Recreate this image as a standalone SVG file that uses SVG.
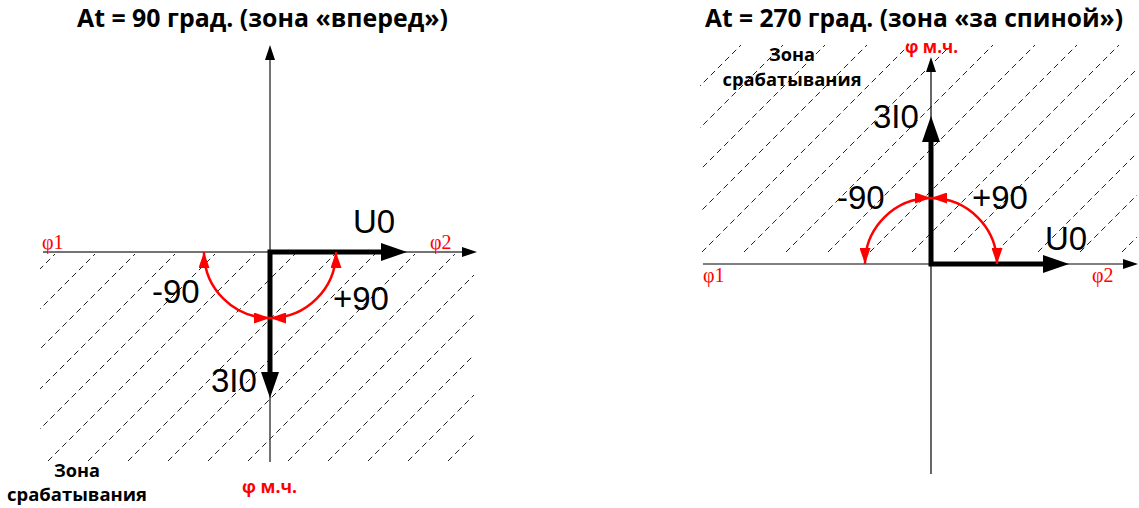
<svg xmlns="http://www.w3.org/2000/svg" width="1139" height="508" viewBox="0 0 1139 508">
<style>
.title{font-family:"Open Sans","Liberation Sans",sans-serif;font-weight:bold;font-size:25px;fill:#000}
.big{font-family:"Liberation Sans",Arial,sans-serif;font-size:33px;fill:#000}
.phi{font-family:"Liberation Serif","Times New Roman",serif;font-size:20px;fill:#ff0000}
.mch{font-family:"Open Sans","Liberation Sans",sans-serif;font-weight:bold;font-size:17px;fill:#ff0000}
.zone{font-family:"Open Sans","Liberation Sans",sans-serif;font-weight:bold;font-size:18px;fill:#000}
.hatch{fill:none;stroke:#222;stroke-width:1;stroke-dasharray:6 4}
.axisL{fill:none;stroke:#444;stroke-width:1.5}
.axisR{fill:none;stroke:#000;stroke-width:1.2}
.vec{fill:none;stroke:#000;stroke-width:5;stroke-linejoin:miter}
.arc{fill:none;stroke:#ff0000;stroke-width:2.5}
</style>
<defs>
<marker id="ahVec" markerUnits="userSpaceOnUse" viewBox="0 -9 26 18" markerWidth="26" markerHeight="18" refX="1" refY="0" orient="auto-start-reverse">
<path d="M0,-9 L26,0 L0,9 Z" fill="#000"/>
</marker>
<marker id="ahAxisL" markerUnits="userSpaceOnUse" viewBox="0 -5 15 10" markerWidth="15" markerHeight="10" refX="1" refY="0" orient="auto">
<path d="M0,-5 L15,0 L0,5 Z" fill="#000"/>
</marker>
<marker id="ahRed" markerUnits="userSpaceOnUse" viewBox="0 -5.5 16 11" markerWidth="16" markerHeight="11" refX="16" refY="0" orient="auto-start-reverse">
<path d="M0,-5.5 L16,0 L0,5.5 Z" fill="#ff0000"/>
</marker>
<clipPath id="clipL"><rect x="40" y="254" width="434" height="207"/></clipPath>
<clipPath id="clipR"><rect x="700" y="45" width="437" height="207"/></clipPath>
</defs>

<g id="left-diagram">
<g id="hatch-left" clip-path="url(#clipL)">
<path class="hatch" d="M-152,461 L56,253 M-112,461 L96,253 M-72,461 L136,253 M-32,461 L176,253 M8,461 L216,253 M48,461 L256,253 M88,461 L296,253 M128,461 L336,253 M168,461 L376,253 M208,461 L416,253 M248,461 L456,253 M288,461 L496,253 M328,461 L536,253 M368,461 L576,253 M408,461 L616,253 M448,461 L656,253"/>
</g>
<g id="connectors-left">
<path id="axis-v-left" class="axisL" d="M270,462 V59" marker-end="url(#ahAxisL)"/>
<path id="axis-h-left" class="axisL" d="M43,252 H463" marker-end="url(#ahAxisL)"/>
<path id="vectors-left" class="vec" d="M382,252 H270 V373" marker-start="url(#ahVec)" marker-end="url(#ahVec)"/>
<path id="arc-minus-left" class="arc" d="M204,252 A66,66 0 0 0 270,318" marker-start="url(#ahRed)" marker-end="url(#ahRed)"/>
<path id="arc-plus-left" class="arc" d="M336,252 A66,66 0 0 1 270,318" marker-start="url(#ahRed)" marker-end="url(#ahRed)"/>
</g>
<g id="title-left"><text class="title" x="262.5" y="27" text-anchor="middle" textLength="371" lengthAdjust="spacingAndGlyphs">At = 90 град. (зона «вперед»)</text></g>
<g id="label-U0-left"><text class="big" x="353" y="233">U0</text></g>
<g id="label-3I0-left"><text class="big" x="211" y="392">3I0</text></g>
<g id="label-m90-left"><text class="big" x="152" y="303">-90</text></g>
<g id="label-p90-left"><text class="big" x="333" y="310">+90</text></g>
<g id="label-phi1-left"><text class="phi" x="42" y="249">φ1</text></g>
<g id="label-phi2-left"><text class="phi" x="430" y="249">φ2</text></g>
<g id="label-mch-left"><text class="mch" x="242" y="493" textLength="55" lengthAdjust="spacingAndGlyphs">φ м.ч.</text></g>
<g id="label-zone-left">
<text class="zone" x="77" y="477" text-anchor="middle" textLength="46" lengthAdjust="spacingAndGlyphs">Зона</text>
<text class="zone" x="77" y="501" text-anchor="middle" textLength="140" lengthAdjust="spacingAndGlyphs">срабатывания</text>
</g>
</g>

<g id="right-diagram">
<g id="hatch-right" clip-path="url(#clipR)">
<path class="hatch" d="M534,252 L741,45 M576,252 L783,45 M618,252 L825,45 M660,252 L867,45 M702,252 L909,45 M744,252 L951,45 M786,252 L993,45 M828,252 L1035,45 M870,252 L1077,45 M912,252 L1119,45 M954,252 L1161,45 M996,252 L1203,45 M1038,252 L1245,45 M1080,252 L1287,45 M1122,252 L1329,45"/>
</g>
<g id="connectors-right">
<path id="axis-v-right" class="axisR" d="M931,474 V71" marker-end="url(#ahAxisL)"/>
<path id="axis-h-right" class="axisR" d="M703,264 H1124" marker-end="url(#ahAxisL)"/>
<path id="vectors-right" class="vec" d="M1044,264 H931 V141" marker-start="url(#ahVec)" marker-end="url(#ahVec)"/>
<path id="arc-minus-right" class="arc" d="M931,198 A66,66 0 0 0 865,264" marker-start="url(#ahRed)" marker-end="url(#ahRed)"/>
<path id="arc-plus-right" class="arc" d="M931,198 A66,66 0 0 1 997,264" marker-start="url(#ahRed)" marker-end="url(#ahRed)"/>
</g>
<g id="title-right"><text class="title" x="914" y="27" text-anchor="middle" textLength="418" lengthAdjust="spacingAndGlyphs">At = 270 град. (зона «за спиной»)</text></g>
<g id="label-U0-right"><text class="big" x="1045" y="250">U0</text></g>
<g id="label-3I0-right"><text class="big" x="873" y="128">3I0</text></g>
<g id="label-m90-right"><text class="big" x="837" y="209">-90</text></g>
<g id="label-p90-right"><text class="big" x="972" y="209">+90</text></g>
<g id="label-phi1-right"><text class="phi" x="703" y="282">φ1</text></g>
<g id="label-phi2-right"><text class="phi" x="1092" y="282">φ2</text></g>
<g id="label-mch-right"><text class="mch" x="905" y="53" textLength="53" lengthAdjust="spacingAndGlyphs">φ м.ч.</text></g>
<g id="label-zone-right">
<text class="zone" x="792" y="61" text-anchor="middle" textLength="46" lengthAdjust="spacingAndGlyphs">Зона</text>
<text class="zone" x="792" y="86" text-anchor="middle" textLength="139" lengthAdjust="spacingAndGlyphs">срабатывания</text>
</g>
</g>
</svg>
